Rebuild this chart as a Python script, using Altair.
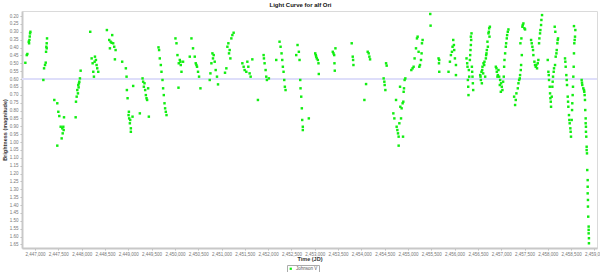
import altair as alt
import pandas as pd

# (Julian Date, V magnitude), grouped by era
early = [
    (2446792, 0.497), (2446822, 0.448), (2446835, 0.441), (2446865, 0.363), (2446872, 0.373),
    (2446879, 0.352), (2446886, 0.33), (2446893, 0.31), (2446900, 0.30),
    (2447178, 0.606), (2447193, 0.532), (2447214, 0.511), (2447229, 0.496), (2447236, 0.427),
    (2447242, 0.395), (2447250, 0.405), (2447250, 0.373), (2447257, 0.342),
    (2447413, 0.733), (2447477, 0.754), (2447477, 1.023), (2447499, 0.808), (2447520, 0.835),
    (2447550, 0.903), (2447571, 0.977), (2447584, 0.913), (2447593, 0.945), (2447606, 0.903),
    (2447614, 0.924), (2447621, 0.843),
    (2447871, 0.843), (2447878, 0.744), (2447893, 0.712), (2447906, 0.67), (2447920, 0.691),
    (2447927, 0.638), (2447935, 0.653), (2447942, 0.627), (2447949, 0.617), (2447963, 0.596),
    (2447978, 0.547),
    (2448184, 0.30), (2448214, 0.469), (2448235, 0.50), (2448249, 0.554), (2448263, 0.585),
    (2448278, 0.49), (2448285, 0.458), (2448306, 0.479), (2448320, 0.511), (2448334, 0.532),
    (2448356, 0.554),
    (2448541, 0.289), (2448591, 0.352), (2448606, 0.405), (2448621, 0.363), (2448642, 0.37),
    (2448655, 0.321), (2448676, 0.373), (2448698, 0.395), (2448713, 0.475), (2448728, 0.416),
    (2448869, 0.49), (2448948, 0.532), (2448963, 0.585), (2448970, 0.67), (2448985, 0.722),
    (2449006, 0.829), (2449013, 0.808), (2449019, 0.85), (2449034, 0.881), (2449041, 0.86),
    (2449055, 0.913), (2449055, 0.935), (2449091, 0.839), (2449105, 0.644),
    (2449248, 0.818), (2449306, 0.596), (2449319, 0.617), (2449334, 0.649), (2449348, 0.627),
    (2449362, 0.67), (2449377, 0.702), (2449391, 0.722), (2449404, 0.733), (2449426, 0.659),
    (2449441, 0.839),
    (2449648, 0.399), (2449661, 0.416), (2449676, 0.469), (2449698, 0.511), (2449712, 0.554),
    (2449734, 0.606), (2449747, 0.659), (2449762, 0.702), (2449777, 0.754), (2449790, 0.786),
    (2449805, 0.808), (2449820, 0.829),
]

middle = [
    (2450012, 0.342), (2450034, 0.373), (2450055, 0.448), (2450077, 0.655), (2450083, 0.50),
    (2450105, 0.479), (2450119, 0.49), (2450126, 0.511), (2450141, 0.554), (2450175, 0.49),
    (2450319, 0.458), (2450355, 0.342), (2450389, 0.405), (2450426, 0.458), (2450447, 0.50),
    (2450462, 0.511), (2450475, 0.522), (2450496, 0.554), (2450518, 0.585), (2450548, 0.659),
    (2450747, 0.606), (2450762, 0.564), (2450783, 0.50), (2450805, 0.437), (2450817, 0.469),
    (2450832, 0.448), (2450854, 0.49), (2450875, 0.543), (2450903, 0.585), (2450925, 0.634),
    (2451075, 0.56), (2451104, 0.532), (2451126, 0.395), (2451147, 0.373), (2451161, 0.437),
    (2451175, 0.416), (2451190, 0.469), (2451211, 0.342), (2451233, 0.321), (2451260, 0.306),
    (2451447, 0.50), (2451475, 0.522), (2451496, 0.543), (2451532, 0.554), (2451554, 0.49),
    (2451575, 0.522), (2451603, 0.564), (2451625, 0.585), (2451661, 0.475), (2451781, 0.733),
    (2451903, 0.448), (2451910, 0.469), (2451924, 0.50), (2451946, 0.543), (2451960, 0.585),
    (2451974, 0.606), (2452016, 0.596),
    (2452174, 0.479), (2452245, 0.363), (2452267, 0.395), (2452288, 0.437), (2452303, 0.479),
    (2452316, 0.522), (2452331, 0.554), (2452346, 0.606), (2452359, 0.649), (2452374, 0.67),
    (2452603, 0.448), (2452631, 0.384), (2452659, 0.427), (2452674, 0.479), (2452689, 0.606),
    (2452695, 0.659), (2452710, 0.712), (2452723, 0.786), (2452731, 0.86), (2452744, 0.903),
    (2452744, 0.924), (2452873, 0.85),
    (2453010, 0.437), (2453023, 0.448), (2453031, 0.458), (2453044, 0.469), (2453066, 0.479),
    (2453080, 0.50), (2453087, 0.568),
    (2453387, 0.427), (2453402, 0.437), (2453417, 0.448), (2453423, 0.50), (2453430, 0.547),
    (2453444, 0.405),
    (2453793, 0.373), (2453815, 0.458), (2453823, 0.479), (2453830, 0.511),
    (2454065, 0.733), (2454101, 0.632), (2454136, 0.427), (2454157, 0.437), (2454172, 0.458),
    (2454187, 0.475),
    (2454478, 0.596), (2454493, 0.617), (2454500, 0.638), (2454515, 0.67), (2454530, 0.50),
    (2454543, 0.515),
    (2454686, 0.818), (2454708, 0.85), (2454744, 0.733), (2454757, 0.903), (2454772, 0.924),
    (2454786, 0.945), (2454800, 0.966), (2454800, 1.023), (2454815, 0.881), (2454830, 0.649),
    (2454836, 0.776), (2454851, 0.85), (2454864, 0.786), (2454885, 0.754), (2454894, 0.966),
    (2454900, 0.744), (2454907, 0.681), (2454915, 0.659), (2454928, 0.606), (2454943, 0.596),
]

late = [
    (2455072, 0.543), (2455099, 0.532), (2455121, 0.522), (2455142, 0.469), (2455172, 0.405),
    (2455193, 0.342), (2455207, 0.331), (2455228, 0.427), (2455243, 0.522), (2455258, 0.511),
    (2455279, 0.479), (2455292, 0.437), (2455300, 0.373), (2455314, 0.352),
    (2455478, 0.187), (2455485, 0.261),
    (2455656, 0.469), (2455665, 0.50), (2455671, 0.554), (2455671, 0.479),
    (2455870, 0.554), (2455900, 0.49), (2455921, 0.448), (2455943, 0.427), (2455956, 0.395),
    (2455971, 0.352), (2455985, 0.384), (2455992, 0.416), (2456007, 0.469), (2456029, 0.511),
    (2456029, 0.575),
    (2456256, 0.469), (2456270, 0.50), (2456277, 0.522), (2456285, 0.606), (2456292, 0.649),
    (2456298, 0.702), (2456306, 0.543), (2456313, 0.585), (2456328, 0.479), (2456335, 0.448),
    (2456341, 0.416), (2456349, 0.384), (2456349, 0.331), (2456356, 0.352), (2456363, 0.31),
    (2456371, 0.522), (2456377, 0.554), (2456384, 0.585), (2456392, 0.627), (2456399, 0.67),
    (2456549, 0.575), (2456556, 0.585), (2456564, 0.606), (2456577, 0.554), (2456585, 0.627),
    (2456592, 0.543), (2456598, 0.522), (2456613, 0.564), (2456620, 0.50), (2456635, 0.511),
    (2456641, 0.49), (2456656, 0.585), (2456671, 0.469), (2456677, 0.448), (2456684, 0.437),
    (2456692, 0.416), (2456705, 0.363), (2456714, 0.395), (2456727, 0.31), (2456735, 0.30),
    (2456742, 0.278), (2456749, 0.331), (2456757, 0.268),
    (2456885, 0.522), (2456898, 0.532), (2456906, 0.554), (2456920, 0.585), (2456928, 0.575),
    (2456941, 0.543), (2456956, 0.585), (2456970, 0.638), (2456977, 0.606), (2456992, 0.681),
    (2456998, 0.627), (2457013, 0.649), (2457026, 0.67), (2457041, 0.617), (2457055, 0.585),
    (2457063, 0.522), (2457070, 0.479), (2457084, 0.437), (2457099, 0.395), (2457106, 0.373),
    (2457120, 0.342), (2457127, 0.321), (2457141, 0.30), (2457155, 0.285),
    (2457277, 0.712), (2457298, 0.765), (2457312, 0.733), (2457326, 0.691), (2457356, 0.659),
    (2457370, 0.627), (2457384, 0.606), (2457398, 0.596), (2457405, 0.575), (2457412, 0.373),
    (2457420, 0.543), (2457427, 0.511), (2457433, 0.342), (2457442, 0.448), (2457455, 0.268),
    (2457462, 0.257), (2457476, 0.247), (2457497, 0.278), (2457512, 0.285),
    (2457641, 0.352), (2457655, 0.373), (2457669, 0.395), (2457683, 0.416), (2457690, 0.448),
    (2457712, 0.49), (2457726, 0.511), (2457741, 0.522), (2457754, 0.511), (2457769, 0.532),
    (2457784, 0.50), (2457797, 0.479), (2457812, 0.373), (2457819, 0.342), (2457833, 0.31),
    (2457840, 0.289), (2457855, 0.257), (2457862, 0.225), (2457876, 0.194),
    (2457998, 0.479), (2458012, 0.554), (2458020, 0.575), (2458026, 0.606), (2458041, 0.649),
    (2458048, 0.691), (2458055, 0.722), (2458063, 0.744), (2458069, 0.776), (2458084, 0.712),
    (2458097, 0.649), (2458104, 0.617), (2458112, 0.585), (2458126, 0.554), (2458133, 0.532),
    (2458148, 0.268), (2458155, 0.511), (2458161, 0.30), (2458169, 0.458), (2458184, 0.437),
    (2458191, 0.416), (2458205, 0.373), (2458212, 0.352), (2458219, 0.342),
    (2458369, 0.469), (2458376, 0.49), (2458383, 0.522), (2458397, 0.575), (2458405, 0.606),
    (2458412, 0.638), (2458427, 0.712), (2458434, 0.744), (2458440, 0.776), (2458454, 0.829),
    (2458462, 0.86), (2458469, 0.881), (2458483, 0.913), (2458490, 0.935), (2458497, 0.966),
    (2458512, 0.86), (2458520, 0.797), (2458525, 0.754), (2458533, 0.702), (2458540, 0.649),
    (2458547, 0.585), (2458555, 0.522), (2458561, 0.437), (2458561, 0.264), (2458568, 0.373),
    (2458576, 0.352), (2458583, 0.331), (2458590, 0.289),
    (2458726, 0.606), (2458733, 0.623), (2458739, 0.638), (2458761, 0.659), (2458776, 0.67),
    (2458782, 0.681), (2458790, 0.702), (2458797, 0.733), (2458803, 0.797), (2458812, 0.85),
    (2458812, 0.881), (2458818, 0.903), (2458818, 0.935), (2458825, 0.966), (2458833, 1.03),
    (2458833, 1.051), (2458840, 1.072), (2458846, 1.178), (2458855, 1.242), (2458855, 1.284),
    (2458855, 1.326), (2458861, 1.368), (2458861, 1.41), (2458867, 1.474), (2458876, 1.537),
    (2458876, 1.558), (2458876, 1.58), (2458882, 1.611), (2458882, 1.643),
]

band_name = "Johnson V"
mean_mag = 0.60
x_ticks = list(range(2447000, 2459001, 500))
y_ticks = [round(0.20 + 0.05 * i, 2) for i in range(30)]

df = pd.DataFrame(early + middle + late, columns=["jd", "mag"])
df["band"] = band_name

FONT = "Liberation Sans"
GREEN = "#11ee11"

x_enc = alt.X(
    "jd:Q",
    scale=alt.Scale(domain=[2446720, 2459055], nice=False, zero=False),
    axis=alt.Axis(
        values=x_ticks, format=",d", title="Time (JD)", grid=False,
        labelFontSize=4.5, labelColor="#777777", labelFont=FONT, labelOverlap=False,
        labelPadding=1.5, tickSize=2, tickColor="#bbbbbb",
        domainColor="#c8c8c8", domainWidth=2,
        titleFontSize=5.5, titleFont=FONT, titleColor="#333333", titlePadding=0.5,
    ),
)
y_scale = alt.Scale(domain=[0.168, 1.673], reverse=True, nice=False, zero=False)
y_axis = alt.Axis(
    values=y_ticks, format=".2f", title="Brightness (magnitude)", grid=False,
    labelFontSize=4.5, labelColor="#777777", labelFont=FONT, labelOverlap=False,
    labelPadding=2, tickSize=2, tickColor="#bbbbbb",
    domainColor="#c8c8c8", domainWidth=2,
    titleFontSize=5.5, titleFont=FONT, titleColor="#333333", titlePadding=2,
)

mean_rule = alt.Chart(pd.DataFrame({"mag": [mean_mag]})).mark_rule(
    color="#dedefa", strokeWidth=2
).encode(y=alt.Y("mag:Q", scale=y_scale, axis=y_axis))

points = alt.Chart(df).mark_square(size=6, opacity=1).encode(
    x=x_enc,
    y=alt.Y("mag:Q", scale=y_scale, axis=y_axis),
    color=alt.Color(
        "band:N",
        scale=alt.Scale(domain=[band_name], range=[GREEN]),
        legend=alt.Legend(
            title=None, orient="none", legendX=265, legendY=254,
            strokeColor="#aaaaaa", padding=1.5, labelFontSize=4.5, labelFont=FONT,
            labelColor="#555555", symbolSize=5, symbolType="square", symbolStrokeWidth=0,
            labelOffset=3,
        ),
    ),
)

chart = alt.layer(mean_rule, points).properties(
    width=575,
    height=237,
    autosize=alt.AutoSizeParams(type="none"),
    padding={"left": 22, "top": 11, "right": 3, "bottom": 24},
    title=alt.TitleParams(
        "Light Curve for alf Ori", fontSize=6, fontWeight="bold", font=FONT,
        anchor="middle", offset=3, dx=-9, color="#111111",
    ),
).configure_view(stroke="#dadada", strokeWidth=1)

chart.save("out.html", embed_options={"renderer": "svg", "actions": False})
